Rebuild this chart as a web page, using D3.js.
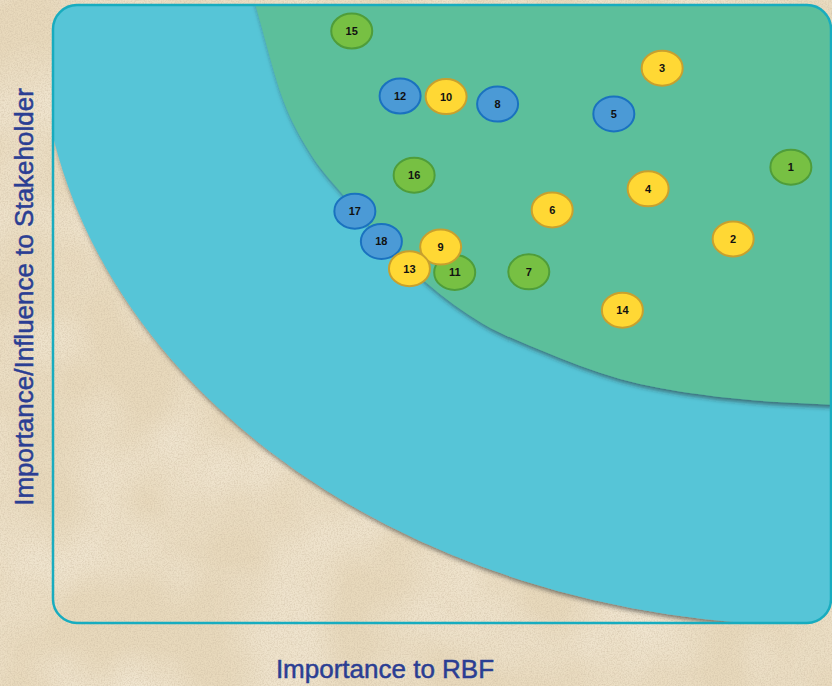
<!DOCTYPE html>
<html>
<head>
<meta charset="utf-8">
<script src="https://cdn.jsdelivr.net/npm/d3@7"></script>
<style>
  html, body { margin: 0; padding: 0; background: #e9dbc0; }
  svg { display: block; }
</style>
</head>
<body>
<svg id="chart"></svg>
<script>
// stakeholder bubbles (0-100 on both axes)
const stakeholderIds = [1, 2, 3, 4, 5, 6, 7, 8, 9, 10, 11, 12, 13, 14, 15, 16, 17, 18];
const rbfImportance = [94.6, 87.2, 78.1, 76.3, 71.9, 64.0, 61.0, 57.0, 49.7, 50.4, 51.5, 44.5, 45.7, 73.0, 38.3, 46.3, 38.7, 42.1];
const stakeholderInfluence = [73.8, 62.2, 89.8, 70.3, 82.4, 66.9, 56.9, 84.0, 60.9, 85.2, 56.8, 85.3, 57.4, 50.7, 95.8, 72.5, 66.7, 61.8];
const stakeholderGroup = ["green", "yellow", "yellow", "yellow", "blue", "yellow", "green", "blue", "yellow",
  "yellow", "green", "blue", "yellow", "yellow", "green", "green", "blue", "blue"];
const groupOrder = ["green", "blue", "yellow"];

// zones
const outerZone = { cx: 98.3, cy: 96.6, rx: 100, ry: 96.9 };
const innerZoneEdgeX = [24.6, 25.9, 29.5, 32.7, 37.2, 47.9, 55.0, 62.4, 72.7, 82.9, 99.9, 108.6];
const innerZoneEdgeY = [105.7, 100.2, 84.7, 76.6, 69.3, 55.1, 48.6, 44.3, 39.6, 37.1, 35.4, 34.9];

const xLabel = "Importance to RBF";
const yLabel = "Importance/Influence to Stakeholder";

const chartConfig = {
  width: 832,
  height: 686,
  left: 53,
  right: 833,
  top: 5,
  bottom: 624,
  frameRadius: 24,
  frameStroke: "#18acbf",
  frameWidth: 2.5,
  outerFill: "#56c5d7",
  innerFill: "#5bbf9b",
  bubbleRx: 20.5,
  bubbleRy: 17.5,
  bubbleStrokeWidth: 2,
  labelColor: "#2b3e93",
  labelSize: 26,
  numberSize: 11,
};

const groupFill = d3.scaleOrdinal().domain(groupOrder).range(["#77c043", "#4b9ad6", "#ffd834"]);
const groupStroke = d3.scaleOrdinal().domain(groupOrder).range(["#4f9d3a", "#1a72bf", "#c8a02e"]);

const cfg = chartConfig;
const svg = d3.select("#chart")
  .attr("width", cfg.width)
  .attr("height", cfg.height)
  .attr("viewBox", [0, 0, cfg.width, cfg.height]);

const x = d3.scaleLinear().domain([0, 100]).range([cfg.left, cfg.right]);
const y = d3.scaleLinear().domain([0, 100]).range([cfg.bottom, cfg.top]);

const defs = svg.append("defs");

// paper texture
const paper = defs.append("filter").attr("id", "paper")
  .attr("x", 0).attr("y", 0).attr("width", "100%").attr("height", "100%");
paper.append("feTurbulence")
  .attr("type", "fractalNoise")
  .attr("baseFrequency", 0.7)
  .attr("numOctaves", 3)
  .attr("seed", 4)
  .attr("result", "fine");
paper.append("feColorMatrix")
  .attr("in", "fine")
  .attr("type", "matrix")
  .attr("values", "0 0 0 0 0.6  0 0 0 0 0.5  0 0 0 0 0.36  1.1 0 0 0 -0.42");

const blotch = defs.append("filter").attr("id", "blotch")
  .attr("x", 0).attr("y", 0).attr("width", "100%").attr("height", "100%");
blotch.append("feTurbulence")
  .attr("type", "fractalNoise")
  .attr("baseFrequency", 0.012)
  .attr("numOctaves", 2)
  .attr("seed", 9)
  .attr("result", "big");
blotch.append("feColorMatrix")
  .attr("in", "big")
  .attr("type", "matrix")
  .attr("values", "0 0 0 0 0.97  0 0 0 0 0.92  0 0 0 0 0.83  0.9 0 0 0 -0.3");

const shadow = defs.append("filter").attr("id", "shadow")
  .attr("x", "-10%").attr("y", "-10%").attr("width", "130%").attr("height", "130%");
shadow.append("feDropShadow")
  .attr("dx", 1.5)
  .attr("dy", 3)
  .attr("stdDeviation", 2.2)
  .attr("flood-color", "#2a2a2a")
  .attr("flood-opacity", 0.55);

defs.append("clipPath").attr("id", "frame-clip")
  .append("rect")
  .attr("x", cfg.left)
  .attr("y", cfg.top)
  .attr("width", cfg.right - 2 - cfg.left)
  .attr("height", cfg.bottom - 1 - cfg.top)
  .attr("rx", cfg.frameRadius);

// background
svg.append("rect").attr("width", cfg.width).attr("height", cfg.height).attr("fill", "#e8d9bc");
svg.append("rect").attr("width", cfg.width).attr("height", cfg.height).attr("filter", "url(#blotch)");
svg.append("rect").attr("width", cfg.width).attr("height", cfg.height).attr("filter", "url(#paper)");

// zones
const zoneG = svg.append("g").attr("clip-path", "url(#frame-clip)");
zoneG.append("ellipse")
  .attr("cx", x(outerZone.cx))
  .attr("cy", y(outerZone.cy))
  .attr("rx", x(outerZone.rx) - x(0))
  .attr("ry", y(0) - y(outerZone.ry))
  .attr("fill", cfg.outerFill)
  .attr("filter", "url(#shadow)");

const innerPts = innerZoneEdgeX.map((d, i) => [x(d), y(innerZoneEdgeY[i])]);
const edgeLine = d3.line().curve(d3.curveMonotoneX);
const last = innerPts[innerPts.length - 1];
zoneG.append("path")
  .attr("d", edgeLine(innerPts) + `L ${last[0]} ${innerPts[0][1]} Z`)
  .attr("fill", cfg.innerFill)
  .attr("filter", "url(#shadow)");

// frame
svg.append("rect")
  .attr("x", cfg.left)
  .attr("y", cfg.top)
  .attr("width", cfg.right - 2 - cfg.left)
  .attr("height", cfg.bottom - 1 - cfg.top)
  .attr("rx", cfg.frameRadius)
  .attr("fill", "none")
  .attr("stroke", cfg.frameStroke)
  .attr("stroke-width", cfg.frameWidth);

// bubbles: green first, then blue, then yellow on top
const bubbles = stakeholderIds
  .map((id, i) => ({
    id,
    rbf: rbfImportance[i],
    influence: stakeholderInfluence[i],
    group: stakeholderGroup[i],
  }))
  .sort((a, b) => groupOrder.indexOf(a.group) - groupOrder.indexOf(b.group) || a.id - b.id);

const bubbleG = svg.append("g")
  .selectAll("g")
  .data(bubbles)
  .join("g")
  .attr("transform", (d) => `translate(${x(d.rbf)},${y(d.influence)})`);

bubbleG.append("ellipse")
  .attr("rx", cfg.bubbleRx)
  .attr("ry", cfg.bubbleRy)
  .attr("fill", (d) => groupFill(d.group))
  .attr("stroke", (d) => groupStroke(d.group))
  .attr("stroke-width", cfg.bubbleStrokeWidth);

bubbleG.append("text")
  .text((d) => d.id)
  .attr("text-anchor", "middle")
  .attr("dy", "0.36em")
  .attr("font-family", "'Liberation Sans', Arial, Helvetica, sans-serif")
  .attr("font-weight", "bold")
  .attr("font-size", cfg.numberSize)
  .attr("fill", "#111");

// axis titles
svg.append("text")
  .text(xLabel)
  .attr("x", 385)
  .attr("y", 678)
  .attr("text-anchor", "middle")
  .attr("font-family", "'Liberation Sans', Arial, Helvetica, sans-serif")
  .attr("font-size", cfg.labelSize)
  .attr("fill", cfg.labelColor)
  .attr("stroke", cfg.labelColor)
  .attr("stroke-width", 0.5);

svg.append("text")
  .text(yLabel)
  .attr("transform", "translate(33,297) rotate(-90)")
  .attr("text-anchor", "middle")
  .attr("font-family", "'Liberation Sans', Arial, Helvetica, sans-serif")
  .attr("font-size", cfg.labelSize)
  .attr("fill", cfg.labelColor)
  .attr("stroke", cfg.labelColor)
  .attr("stroke-width", 0.5);
</script>
</body>
</html>
